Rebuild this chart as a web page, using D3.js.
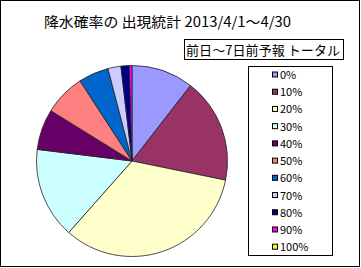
<!DOCTYPE html>
<html>
<head>
<meta charset="utf-8">
<script src="https://cdn.jsdelivr.net/npm/d3@7"></script>
<style>
  body { margin: 0; background: #fff; }
  text { font-family: "Noto Sans CJK JP", "DejaVu Sans", sans-serif; }
</style>
</head>
<body>
<svg id="svg1"></svg>
<script>
// 降水確率の区分と出現割合 (%)
const categories = ['0%', '10%', '20%', '30%', '40%', '50%', '60%', '70%', '80%', '90%', '100%'];
const shares = [10.5, 17.7, 33.3, 15.4, 6.9, 7.0, 5.1, 2.2, 1.4, 0.45, 0];
const colours = ['#9999ff', '#993366', '#ffffcc', '#ccffff', '#660066', '#ff8080',
  '#0066cc', '#ccccff', '#000080', '#ff00ff', '#ffff00'];

const titleText = '降水確率の 出現統計 2013/4/1～4/30';
const subtitleText = '前日～7日前予報 トータル';

const WIDTH = 361;
const HEIGHT = 268;
const CENTER = {x: 132, y: 161};
const RADIUS = 95.5;

const svg = d3.select('#svg1')
  .attr('width', WIDTH)
  .attr('height', HEIGHT);

// outer frame
svg.append('rect')
  .attr('x', 0.5).attr('y', 0.5)
  .attr('width', 359).attr('height', 266)
  .attr('fill', '#fff')
  .attr('stroke', '#000');

svg.append('text')
  .attr('x', 44)
  .attr('y', 27)
  .attr('font-size', 14)
  .attr('textLength', 247)
  .attr('lengthAdjust', 'spacingAndGlyphs')
  .text(titleText);

// subtitle box
svg.append('rect')
  .attr('x', 184.5).attr('y', 39.5)
  .attr('width', 159).attr('height', 20)
  .attr('fill', '#fff')
  .attr('stroke', '#000');

svg.append('text')
  .attr('x', 186)
  .attr('y', 55)
  .attr('font-size', 13)
  .attr('textLength', 154)
  .attr('lengthAdjust', 'spacing')
  .text(subtitleText);

const pie = d3.pie().sort(null).value(d => d.value);
const arc = d3.arc().innerRadius(0).outerRadius(RADIUS);

const slices = categories.map((c, i) => ({name: c, value: shares[i], colour: colours[i]}));

const chart = svg.append('g')
  .attr('transform', `translate(${CENTER.x}, ${CENTER.y})`);

chart.selectAll('.slice')
  .data(pie(slices).filter(d => d.data.value > 0))
  .enter()
  .append('path')
  .classed('slice', true)
  .attr('d', arc)
  .attr('fill', d => d.data.colour)
  .attr('stroke', '#222')
  .attr('stroke-width', 0.8);

// legend
const legend = svg.append('g');

legend.append('rect')
  .attr('x', 248.5).attr('y', 66.5)
  .attr('width', 84).attr('height', 189)
  .attr('fill', '#fff')
  .attr('stroke', '#000');

const ly = d3.scalePoint().domain(categories).range([74.5, 246.7]);

const items = legend.selectAll('.item')
  .data(slices)
  .enter()
  .append('g')
  .classed('item', true)
  .attr('transform', d => `translate(272, ${ly(d.name)})`);

items.append('rect')
  .attr('x', 0.5).attr('y', -2.5)
  .attr('width', 5).attr('height', 5)
  .attr('fill', d => d.colour)
  .attr('stroke', '#000');

items.append('text')
  .attr('x', 8)
  .attr('y', 4.5)
  .attr('font-size', 11)
  .text(d => d.name);
</script>
</body>
</html>
